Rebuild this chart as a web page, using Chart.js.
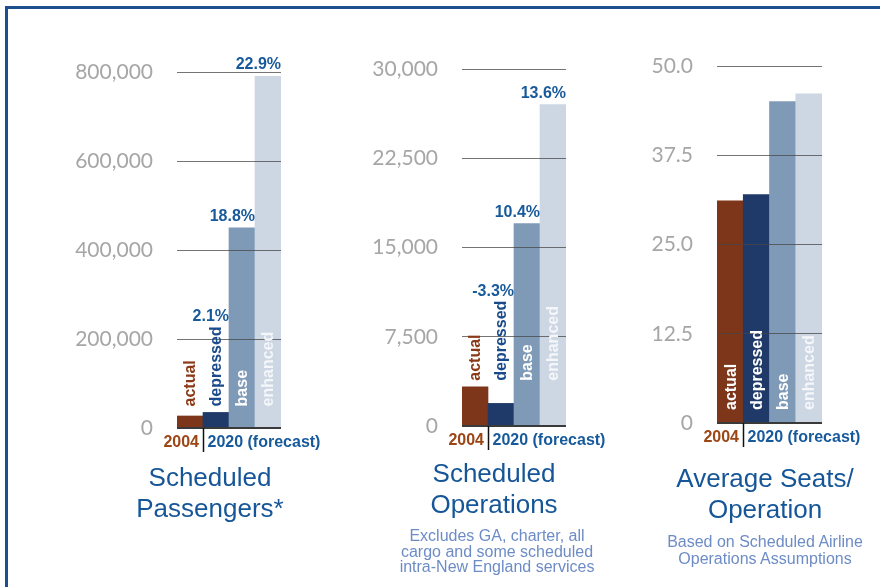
<!DOCTYPE html>
<html>
<head>
<meta charset="utf-8">
<script src="https://cdn.jsdelivr.net/npm/chart.js@4/dist/chart.umd.min.js"></script>
<style>
  body { margin: 0; background: #fff; }
  #page { position: relative; width: 880px; height: 587px; overflow: hidden; font-family: "Liberation Sans", Arial, sans-serif; }
  #frame { position: absolute; left: 5px; top: 6px; width: 900px; height: 600px; border-top: 3px solid #1b4f8e; border-left: 3px solid #1b4f8e; }
  canvas { position: absolute; }
  .title { position: absolute; width: 280px; text-align: center; font-size: 26px; line-height: 31px; color: #165698; }
  .sub { position: absolute; width: 260px; text-align: center; font-size: 16px; line-height: 15.5px; color: #6d8cc6; }
</style>
</head>
<body>
<div id="page">
  <div id="frame"></div>
  <canvas id="c1"></canvas>
  <canvas id="c2"></canvas>
  <canvas id="c3"></canvas>
  <div class="title" style="left:70px;top:462px">Scheduled<br>Passengers*</div>
  <div class="title" style="left:354px;top:458px">Scheduled<br>Operations</div>
  <div class="sub" style="left:367px;top:528px">Excludes GA, charter, all<br>cargo and some scheduled<br>intra-New England services</div>
  <div class="title" style="left:625px;top:463px">Average Seats/<br>Operation</div>
  <div class="sub" style="left:635px;top:534px;line-height:16.5px">Based on Scheduled Airline<br>Operations Assumptions</div>
</div>
<script>
// categories and values
var categories = ['actual', 'depressed', 'base', 'enhanced'];
var passengers = [27000, 35000, 450000, 790000];
var operations = [3300, 1900, 17000, 27000];
var seatsPerOp = [31.1, 32.0, 45.0, 46.1];
var passengerGrowth = ['', '2.1%', '18.8%', '22.9%'];
var operationGrowth = ['', '-3.3%', '10.4%', '13.6%'];
var passengerTicks = ['0', '200,000', '400,000', '600,000', '800,000'];
var operationTicks = ['0', '7,500', '15,000', '22,500', '30,000'];
var seatTicks = ['0', '12.5', '25.0', '37.5', '50.0'];
var yearActual = '2004';
var yearForecast = '2020 (forecast)';

var barColors = ['#7d361a', '#1f3a68', '#7f9ab7', '#cdd6e3'];
var outsideColors = ['#8a3a16', '#1a4a8a', '#5a7aa0', '#8a9ab0'];
var insideColors = ['#ffffff', '#ffffff', '#ffffff', '#f4f6f9'];
var boldFont = 'bold 16px "Liberation Sans", Arial, sans-serif';

// draws the rotated category names, growth labels and the year labels under the axis
var barLabels = {
  id: 'barLabels',
  afterDraw: function(chart, args, opts) {
    var ctx = chart.ctx;
    var bars = chart.getDatasetMeta(0).data;
    var zero = chart.scales.y.getPixelForValue(0);
    ctx.save();
    ctx.font = boldFont;
    var widths = categories.map(function(c) { return ctx.measureText(c).width; });
    var outside = bars.map(function(b, i) { return (zero - b.y) < widths[i] + 20; });
    var start = zero - 13;
    bars.forEach(function(b, i) { if (outside[i]) start = Math.min(start, b.y - 6); });

    bars.forEach(function(b, i) {
      ctx.save();
      ctx.translate(b.x, start);
      ctx.rotate(-Math.PI / 2);
      ctx.textAlign = 'left';
      ctx.textBaseline = 'middle';
      ctx.fillStyle = outside[i] ? outsideColors[i] : insideColors[i];
      ctx.fillText(categories[i], 0, 1);
      ctx.restore();

      var pct = opts.growth ? opts.growth[i] : '';
      if (pct) {
        var base = outside[i] ? start - widths[i] - 5 : b.y - 7;
        ctx.textAlign = 'right';
        ctx.textBaseline = 'alphabetic';
        ctx.fillStyle = '#17599b';
        ctx.fillText(pct, b.x + b.width / 2, base);
      }
    });

    var first = bars[0];
    var tickX = Math.round(first.x + first.width / 2) + 0.5;
    ctx.strokeStyle = '#111';
    ctx.lineWidth = 1.5;
    ctx.beginPath();
    ctx.moveTo(tickX, zero);
    ctx.lineTo(tickX, zero + 24);
    ctx.stroke();
    ctx.textBaseline = 'alphabetic';
    ctx.textAlign = 'right';
    ctx.fillStyle = '#9c4615';
    ctx.fillText(yearActual, tickX - 4.5, zero + 19);
    ctx.textAlign = 'left';
    ctx.fillStyle = '#175a9c';
    ctx.fillText(yearForecast, tickX + 4, zero + 19);
    ctx.restore();
  }
};

function makePanel(id, values, growth, tickLabels, maxY, step, area) {
  var canvas = document.getElementById(id);
  var left = area.left - 117;
  var top = 20;
  canvas.width = area.right - left + 50;
  canvas.height = 450;
  canvas.style.left = left + 'px';
  canvas.style.top = top + 'px';

  return new Chart(canvas.getContext('2d'), {
    type: 'bar',
    data: {
      labels: categories,
      datasets: [{
        data: values,
        backgroundColor: barColors,
        barPercentage: 1,
        categoryPercentage: 1
      }]
    },
    options: {
      responsive: false,
      animation: false,
      devicePixelRatio: 1,
      layout: { padding: { left: 0, right: 50, top: area.top - top, bottom: top + 450 - area.bottom } },
      plugins: { legend: { display: false }, tooltip: { enabled: false }, barLabels: { growth: growth } },
      scales: {
        x: { display: false },
        y: {
          min: 0,
          max: maxY,
          afterFit: function(s) { s.width = 117; },
          border: { display: false },
          grid: {
            z: 1,
            drawTicks: false,
            color: function(c) { return c.tick.value === 0 ? '#3a3a3a' : 'rgba(70,70,70,0.75)'; },
            lineWidth: function(c) { return c.tick.value === 0 ? 2 : 1; }
          },
          ticks: {
            stepSize: step,
            padding: 24,
            color: '#a6a6a6',
            font: { family: 'Lato', size: 21 },
            callback: function(v, i) { return tickLabels[i]; }
          }
        }
      }
    },
    plugins: [barLabels]
  });
}

makePanel('c1', passengers, passengerGrowth, passengerTicks, 800000, 200000, { left: 177, right: 281, top: 72, bottom: 428 });
makePanel('c2', operations, operationGrowth, operationTicks, 30000, 7500, { left: 462, right: 566, top: 69, bottom: 426 });
makePanel('c3', seatsPerOp, null, seatTicks, 50, 12.5, { left: 717, right: 822, top: 66, bottom: 423 });
</script>
</body>
</html>
